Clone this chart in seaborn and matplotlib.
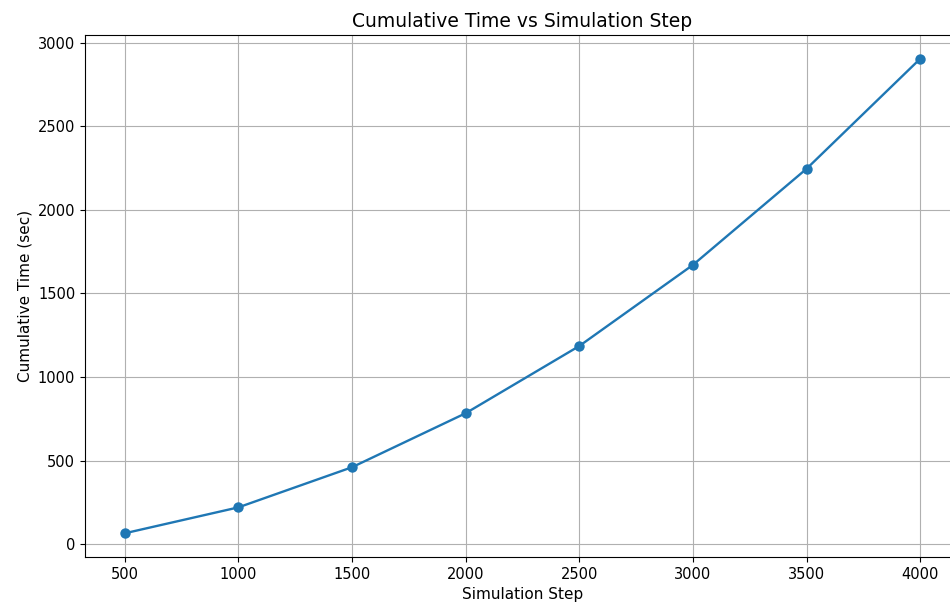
import matplotlib
matplotlib.use("Agg")
import matplotlib.pyplot as plt
import seaborn as sns
import pandas as pd

steps = [500, 1000, 1500, 2000, 2500, 3000, 3500, 4000]
cum_time = [66, 221, 461, 784, 1186, 1671, 2246, 2904]

df = pd.DataFrame({"step": steps, "time": cum_time})

fig = plt.figure(figsize=(9.5, 6.05), dpi=100)
ax = fig.add_axes([85/950, 48/605, (960-85)/950, (557-35)/605])
sns.lineplot(data=df, x="step", y="time", marker="o", markersize=7.5,
             markeredgewidth=0, color="#1f77b4", linewidth=1.7, ax=ax)
ax.set_xticks(steps)
ax.set_yticks([0, 500, 1000, 1500, 2000, 2500, 3000])
ax.tick_params(labelsize=10.5)
ax.grid(True, color="#b0b0b0", linewidth=0.8)
ax.set_axisbelow(True)
ax.set_title("Cumulative Time vs Simulation Step", fontsize=13.5)
ax.set_xlabel("Simulation Step", fontsize=11)
ax.set_ylabel("Cumulative Time (sec)", fontsize=11)
fig.savefig("out.png", dpi=100)
